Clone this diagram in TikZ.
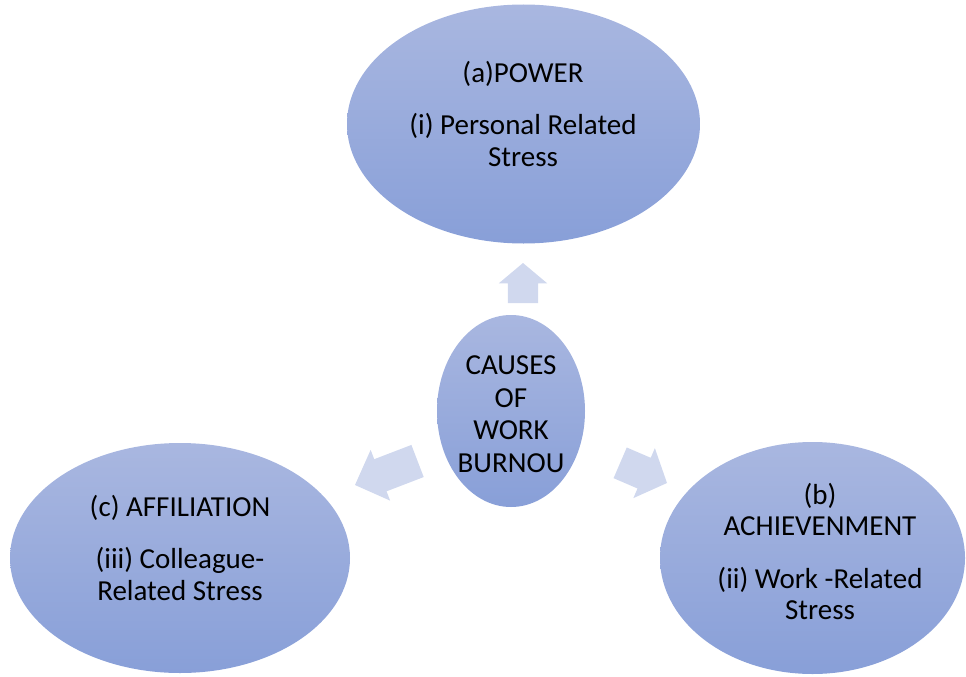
\documentclass[tikz,border=0pt]{standalone}
\usepackage{fontspec}
\setmainfont{Carlito}
\usetikzlibrary{shapes.geometric,shapes.arrows}

\definecolor{bubbletop}{HTML}{A9B7E0}
\definecolor{bubblebottom}{HTML}{889FD8}
\definecolor{pointerfill}{HTML}{D0D8EE}

\tikzset{
  bubble/.style={ellipse, draw=none, inner sep=0pt, outer sep=0pt,
    top color=bubbletop, bottom color=bubblebottom},
  caption/.style={anchor=north, align=center, inner sep=0pt, text=black,
    font=\fontsize{29}{31.5}\selectfont},
  pointer/.style={single arrow, draw=none, fill=pointerfill, inner xsep=0pt,
    outer sep=0pt, anchor=tip}
}

\begin{document}
\begin{tikzpicture}[x=1pt, y=-1pt]
  \useasboundingbox (0,0) rectangle (966,677);

  % four bubbles
  \node[bubble, minimum width=353, minimum height=239] (power) at (523.5,124) {};
  \node[bubble, minimum width=148, minimum height=192] (causes) at (511,411) {};
  \node[bubble, minimum width=340, minimum height=230] (affil) at (180,558) {};
  \node[bubble, minimum width=305, minimum height=232] (achieve) at (812.5,558) {};

  % block arrows pointing out from the centre
  \node[pointer, rotate=90, minimum height=40, minimum width=48,
        inner ysep=15, single arrow head extend=9, single arrow tip angle=100]
        (uparrow) at (523,263) {};
  \node[pointer, rotate=201, minimum height=67, minimum width=54,
        inner ysep=17, single arrow head extend=10, single arrow tip angle=90]
        (leftarrow) at (355,485) {};
  \node[pointer, rotate=-23.3, minimum height=51, minimum width=54,
        inner ysep=16.5, single arrow head extend=10.5, single arrow tip angle=95]
        (rightarrow) at (667,483) {};

  % labels
  \node[caption] (powertext) at (523,60)
    {\strut(a)POWER\\[21pt](i) Personal Related\\Stress};
  \node[caption, font=\fontsize{29}{32.5}\selectfont] (causestext) at (511,352)
    {\strut CAUSES\\OF\\WORK\\BURNOU};
  \node[caption] (affiltext) at (180,494)
    {\strut(c) AFFILIATION\\[21pt](iii) Colleague-\\Related Stress};
  \node[caption] (achievetext) at (820,482)
    {\strut(b)\\ACHIEVENMENT\\[21pt](ii) Work -Related\\Stress};
\end{tikzpicture}
\end{document}
